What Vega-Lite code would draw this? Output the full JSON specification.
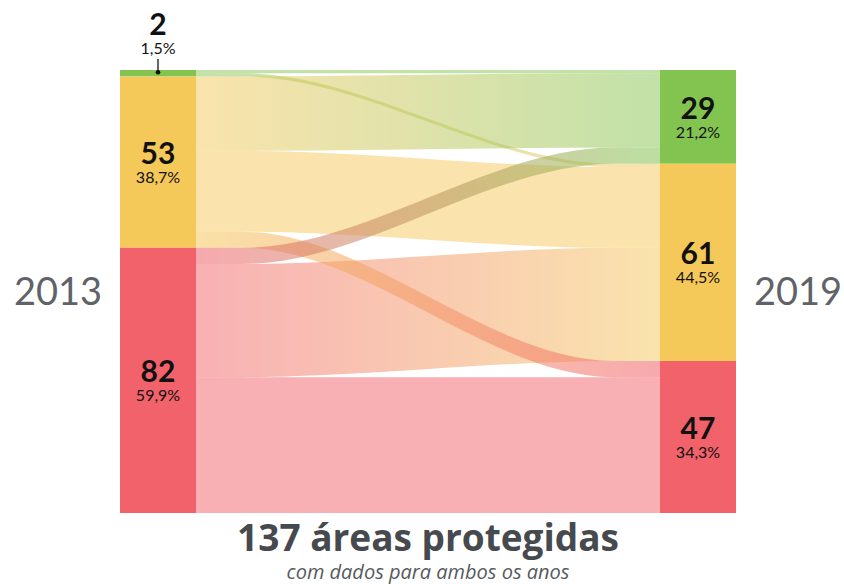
{
  "$schema": "https://vega.github.io/schema/vega-lite/v6.json",
  "width": 844,
  "height": 584,
  "autosize": {"type": "fit", "contains": "padding"},
  "padding": 0,
  "background": "white",
  "config": {"view": {"stroke": null}},
  "datasets": {
    "flows": [
      {"flow": "gg", "t": 2013, "lo": 0, "hi": 1}, {"flow": "gg", "t": 2013.6, "lo": 0, "hi": 1}, {"flow": "gg", "t": 2018.4, "lo": 0, "hi": 1}, {"flow": "gg", "t": 2019, "lo": 0, "hi": 1},
      {"flow": "gy", "t": 2013, "lo": 1, "hi": 2}, {"flow": "gy", "t": 2013.6, "lo": 1, "hi": 2}, {"flow": "gy", "t": 2018.4, "lo": 29, "hi": 30}, {"flow": "gy", "t": 2019, "lo": 29, "hi": 30},
      {"flow": "yg", "t": 2013, "lo": 2, "hi": 25}, {"flow": "yg", "t": 2013.6, "lo": 2, "hi": 25}, {"flow": "yg", "t": 2018.4, "lo": 1, "hi": 24}, {"flow": "yg", "t": 2019, "lo": 1, "hi": 24},
      {"flow": "yy", "t": 2013, "lo": 25, "hi": 50}, {"flow": "yy", "t": 2013.6, "lo": 25, "hi": 50}, {"flow": "yy", "t": 2018.4, "lo": 30, "hi": 55}, {"flow": "yy", "t": 2019, "lo": 30, "hi": 55},
      {"flow": "yr", "t": 2013, "lo": 50, "hi": 55}, {"flow": "yr", "t": 2013.6, "lo": 50, "hi": 55}, {"flow": "yr", "t": 2018.4, "lo": 90, "hi": 95}, {"flow": "yr", "t": 2019, "lo": 90, "hi": 95},
      {"flow": "rg", "t": 2013, "lo": 55, "hi": 60}, {"flow": "rg", "t": 2013.6, "lo": 55, "hi": 60}, {"flow": "rg", "t": 2018.4, "lo": 24, "hi": 29}, {"flow": "rg", "t": 2019, "lo": 24, "hi": 29},
      {"flow": "ry", "t": 2013, "lo": 60, "hi": 95}, {"flow": "ry", "t": 2013.6, "lo": 60, "hi": 95}, {"flow": "ry", "t": 2018.4, "lo": 55, "hi": 90}, {"flow": "ry", "t": 2019, "lo": 55, "hi": 90},
      {"flow": "rr", "t": 2013, "lo": 95, "hi": 137}, {"flow": "rr", "t": 2013.6, "lo": 95, "hi": 137}, {"flow": "rr", "t": 2018.4, "lo": 95, "hi": 137}, {"flow": "rr", "t": 2019, "lo": 95, "hi": 137}
    ],
    "nodes": [
      {"year": 2013, "cat": "g", "start": 0, "end": 2, "mid": 1, "n": 2, "pct": "1,5%"},
      {"year": 2013, "cat": "y", "start": 2, "end": 55, "mid": 28.5, "n": 53, "pct": "38,7%"},
      {"year": 2013, "cat": "r", "start": 55, "end": 137, "mid": 96, "n": 82, "pct": "59,9%"},
      {"year": 2019, "cat": "g", "start": 0, "end": 29, "mid": 14.5, "n": 29, "pct": "21,2%"},
      {"year": 2019, "cat": "y", "start": 29, "end": 90, "mid": 59.5, "n": 61, "pct": "44,5%"},
      {"year": 2019, "cat": "r", "start": 90, "end": 137, "mid": 113.5, "n": 47, "pct": "34,3%"}
    ],
    "years": [{"year": 2013, "mid": 68.5}, {"year": 2019, "mid": 68.5}],
    "titles": [{"title": "137 áreas protegidas", "subtitle": "com dados para ambos os anos", "year": 2016, "total": 137}]
  },
  "layer": [
    {
      "data": {"name": "flows"},
      "transform": [{"filter": "datum.flow == 'gg'"}],
      "mark": {"type": "area", "orient": "vertical", "interpolate": "monotone", "fillOpacity": 0.5, "color": "#83c451"},
      "encoding": {
        "x": {"field": "t", "type": "quantitative", "scale": {"domain": [2010.4655, 2021.3793], "nice": false, "zero": false}, "axis": null},
        "y": {"field": "lo", "type": "quantitative", "scale": {"domain": [-21.65, 158.96], "reverse": true, "nice": false, "zero": false}, "axis": null},
        "y2": {"field": "hi"}
      }
    },
    {
      "data": {"name": "flows"},
      "transform": [{"filter": "datum.flow == 'gy'"}],
      "mark": {"type": "area", "orient": "vertical", "interpolate": "monotone", "fillOpacity": 0.5,
        "color": {"gradient": "linear", "x1": 0, "y1": 0, "x2": 1, "y2": 0, "stops": [{"offset": 0, "color": "#83c451"}, {"offset": 1, "color": "#f5c85a"}]}},
      "encoding": {
        "x": {"field": "t", "type": "quantitative"},
        "y": {"field": "lo", "type": "quantitative"},
        "y2": {"field": "hi"}
      }
    },
    {
      "data": {"name": "flows"},
      "transform": [{"filter": "datum.flow == 'yg'"}],
      "mark": {"type": "area", "orient": "vertical", "interpolate": "monotone", "fillOpacity": 0.5,
        "color": {"gradient": "linear", "x1": 0, "y1": 0, "x2": 1, "y2": 0, "stops": [{"offset": 0, "color": "#f5c85a"}, {"offset": 1, "color": "#83c451"}]}},
      "encoding": {
        "x": {"field": "t", "type": "quantitative"},
        "y": {"field": "lo", "type": "quantitative"},
        "y2": {"field": "hi"}
      }
    },
    {
      "data": {"name": "flows"},
      "transform": [{"filter": "datum.flow == 'yy'"}],
      "mark": {"type": "area", "orient": "vertical", "interpolate": "monotone", "fillOpacity": 0.5, "color": "#f5c85a"},
      "encoding": {
        "x": {"field": "t", "type": "quantitative"},
        "y": {"field": "lo", "type": "quantitative"},
        "y2": {"field": "hi"}
      }
    },
    {
      "data": {"name": "flows"},
      "transform": [{"filter": "datum.flow == 'ry'"}],
      "mark": {"type": "area", "orient": "vertical", "interpolate": "monotone", "fillOpacity": 0.5,
        "color": {"gradient": "linear", "x1": 0, "y1": 0, "x2": 1, "y2": 0, "stops": [{"offset": 0, "color": "#f1626a"}, {"offset": 1, "color": "#f5c85a"}]}},
      "encoding": {
        "x": {"field": "t", "type": "quantitative"},
        "y": {"field": "lo", "type": "quantitative"},
        "y2": {"field": "hi"}
      }
    },
    {
      "data": {"name": "flows"},
      "transform": [{"filter": "datum.flow == 'rr'"}],
      "mark": {"type": "area", "orient": "vertical", "interpolate": "monotone", "fillOpacity": 0.5, "color": "#f1626a"},
      "encoding": {
        "x": {"field": "t", "type": "quantitative"},
        "y": {"field": "lo", "type": "quantitative"},
        "y2": {"field": "hi"}
      }
    },
    {
      "data": {"name": "flows"},
      "transform": [{"filter": "datum.flow == 'yr'"}],
      "mark": {"type": "area", "orient": "vertical", "interpolate": "monotone", "fillOpacity": 0.55,
        "color": {"gradient": "linear", "x1": 0, "y1": 0, "x2": 1, "y2": 0, "stops": [{"offset": 0, "color": "#f5c85a"}, {"offset": 1, "color": "#f1626a"}]}},
      "encoding": {
        "x": {"field": "t", "type": "quantitative"},
        "y": {"field": "lo", "type": "quantitative"},
        "y2": {"field": "hi"}
      }
    },
    {
      "data": {"name": "flows"},
      "transform": [{"filter": "datum.flow == 'rg'"}],
      "mark": {"type": "area", "orient": "vertical", "interpolate": "monotone", "fillOpacity": 0.55,
        "color": {"gradient": "linear", "x1": 0, "y1": 0, "x2": 1, "y2": 0, "stops": [{"offset": 0, "color": "#f1626a"}, {"offset": 1, "color": "#83c451"}]}},
      "encoding": {
        "x": {"field": "t", "type": "quantitative"},
        "y": {"field": "lo", "type": "quantitative"},
        "y2": {"field": "hi"}
      }
    },
    {
      "data": {"name": "nodes"},
      "transform": [{"filter": "datum.year == 2013"}],
      "mark": {"type": "rect", "xOffset": -76},
      "encoding": {
        "x": {"field": "year", "type": "quantitative"},
        "x2": {"field": "year"},
        "y": {"field": "start", "type": "quantitative"},
        "y2": {"field": "end"},
        "color": {"field": "cat", "type": "nominal", "scale": {"domain": ["g", "y", "r"], "range": ["#83c451", "#f5c85a", "#f1626a"]}, "legend": null}
      }
    },
    {
      "data": {"name": "nodes"},
      "transform": [{"filter": "datum.year == 2019"}],
      "mark": {"type": "rect", "x2Offset": 76},
      "encoding": {
        "x": {"field": "year", "type": "quantitative"},
        "x2": {"field": "year"},
        "y": {"field": "start", "type": "quantitative"},
        "y2": {"field": "end"},
        "color": {"field": "cat", "type": "nominal", "scale": {"domain": ["g", "y", "r"], "range": ["#83c451", "#f5c85a", "#f1626a"]}, "legend": null}
      }
    },
    {
      "data": {"name": "nodes"},
      "transform": [{"filter": "datum.year == 2013 && datum.n >= 5"}],
      "mark": {"type": "text", "font": "Lato", "fontWeight": "bold", "fontSize": 30, "color": "#111111", "align": "center", "baseline": "alphabetic", "dx": -38, "dy": 2},
      "encoding": {
        "x": {"field": "year", "type": "quantitative"},
        "y": {"field": "mid", "type": "quantitative"},
        "text": {"field": "n", "type": "nominal"}
      }
    },
    {
      "data": {"name": "nodes"},
      "transform": [{"filter": "datum.year == 2013 && datum.n >= 5"}],
      "mark": {"type": "text", "font": "Lato", "fontSize": 16, "color": "#111111", "align": "center", "baseline": "alphabetic", "dx": -38, "dy": 21},
      "encoding": {
        "x": {"field": "year", "type": "quantitative"},
        "y": {"field": "mid", "type": "quantitative"},
        "text": {"field": "pct", "type": "nominal"}
      }
    },
    {
      "data": {"name": "nodes"},
      "transform": [{"filter": "datum.year == 2019"}],
      "mark": {"type": "text", "font": "Lato", "fontWeight": "bold", "fontSize": 30, "color": "#111111", "align": "center", "baseline": "alphabetic", "dx": 38, "dy": 2},
      "encoding": {
        "x": {"field": "year", "type": "quantitative"},
        "y": {"field": "mid", "type": "quantitative"},
        "text": {"field": "n", "type": "nominal"}
      }
    },
    {
      "data": {"name": "nodes"},
      "transform": [{"filter": "datum.year == 2019"}],
      "mark": {"type": "text", "font": "Lato", "fontSize": 16, "color": "#111111", "align": "center", "baseline": "alphabetic", "dx": 38, "dy": 21},
      "encoding": {
        "x": {"field": "year", "type": "quantitative"},
        "y": {"field": "mid", "type": "quantitative"},
        "text": {"field": "pct", "type": "nominal"}
      }
    },
    {
      "data": {"name": "nodes"},
      "transform": [{"filter": "datum.year == 2013 && datum.n < 5"}],
      "mark": {"type": "text", "font": "Lato", "fontWeight": "bold", "fontSize": 30, "color": "#111111", "align": "center", "baseline": "alphabetic", "dx": -38, "dy": -35},
      "encoding": {
        "x": {"field": "year", "type": "quantitative"},
        "y": {"field": "start", "type": "quantitative"},
        "text": {"field": "n", "type": "nominal"}
      }
    },
    {
      "data": {"name": "nodes"},
      "transform": [{"filter": "datum.year == 2013 && datum.n < 5"}],
      "mark": {"type": "text", "font": "Lato", "fontSize": 16, "color": "#111111", "align": "center", "baseline": "alphabetic", "dx": -38, "dy": -16},
      "encoding": {
        "x": {"field": "year", "type": "quantitative"},
        "y": {"field": "start", "type": "quantitative"},
        "text": {"field": "pct", "type": "nominal"}
      }
    },
    {
      "data": {"name": "nodes"},
      "transform": [{"filter": "datum.year == 2013 && datum.n < 5"}],
      "mark": {"type": "rule", "color": "#111111", "strokeWidth": 1.3, "xOffset": -38, "yOffset": -11, "y2Offset": -1},
      "encoding": {
        "x": {"field": "year", "type": "quantitative"},
        "y": {"field": "start", "type": "quantitative"},
        "y2": {"field": "mid"}
      }
    },
    {
      "data": {"name": "nodes"},
      "transform": [{"filter": "datum.year == 2013 && datum.n < 5"}],
      "mark": {"type": "point", "filled": true, "color": "#111111", "size": 22, "opacity": 1, "xOffset": -38, "yOffset": -1},
      "encoding": {
        "x": {"field": "year", "type": "quantitative"},
        "y": {"field": "mid", "type": "quantitative"}
      }
    },
    {
      "data": {"name": "years"},
      "transform": [{"filter": "datum.year == 2013"}],
      "mark": {"type": "text", "font": "Lato", "fontSize": 38, "color": "#5f6367", "align": "center", "baseline": "alphabetic", "dx": -138, "dy": 13.5},
      "encoding": {
        "x": {"field": "year", "type": "quantitative"},
        "y": {"field": "mid", "type": "quantitative"},
        "text": {"field": "year", "type": "nominal"}
      }
    },
    {
      "data": {"name": "years"},
      "transform": [{"filter": "datum.year == 2019"}],
      "mark": {"type": "text", "font": "Lato", "fontSize": 38, "color": "#5f6367", "align": "center", "baseline": "alphabetic", "dx": 138, "dy": 13.5},
      "encoding": {
        "x": {"field": "year", "type": "quantitative"},
        "y": {"field": "mid", "type": "quantitative"},
        "text": {"field": "year", "type": "nominal"}
      }
    },
    {
      "data": {"name": "titles"},
      "mark": {"type": "text", "font": "Open Sans", "fontWeight": "bold", "fontSize": 37, "color": "#46494d", "align": "center", "baseline": "alphabetic", "dy": 38},
      "encoding": {
        "x": {"field": "year", "type": "quantitative"},
        "y": {"field": "total", "type": "quantitative"},
        "text": {"field": "title", "type": "nominal"}
      }
    },
    {
      "data": {"name": "titles"},
      "mark": {"type": "text", "font": "Open Sans", "fontStyle": "italic", "fontSize": 20, "color": "#555a5e", "align": "center", "baseline": "alphabetic", "dy": 66},
      "encoding": {
        "x": {"field": "year", "type": "quantitative"},
        "y": {"field": "total", "type": "quantitative"},
        "text": {"field": "subtitle", "type": "nominal"}
      }
    }
  ]
}
